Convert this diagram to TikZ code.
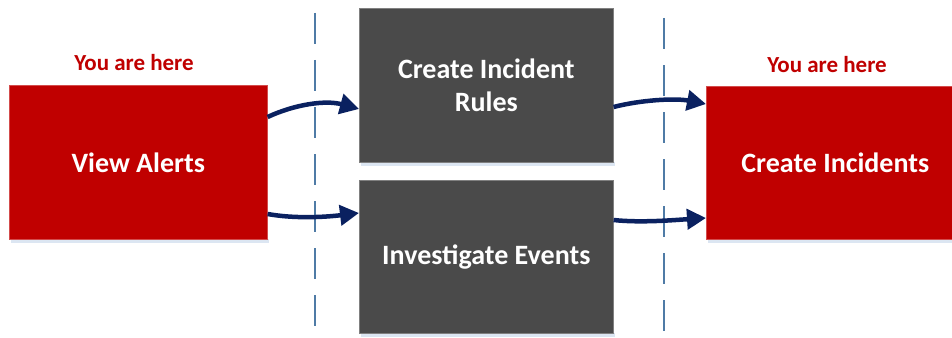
\documentclass[tikz,border=0pt]{standalone}
\usepackage{fontspec}
\setmainfont{Carlito}
\usetikzlibrary{arrows.meta,calc}
\definecolor{boxred}{HTML}{C00000}
\definecolor{boxgray}{HTML}{4A4A4A}
\definecolor{navy}{HTML}{0A2160}
\definecolor{dashblue}{HTML}{4F7BA6}
\definecolor{shadowblue}{HTML}{DCE6F2}
\tikzset{
  redbox/.style={fill=boxred, draw=boxred!70!white, line width=0.6pt, text=white, font=\fontsize{28}{33}\selectfont\bfseries, align=center, inner sep=0pt, anchor=north west},
  graybox/.style={fill=boxgray, draw=boxgray!70!white, line width=0.6pt, text=white, font=\fontsize{28}{33}\selectfont\bfseries, align=center, inner sep=0pt, anchor=north west},
  herelabel/.style={text=boxred, font=\fontsize{23}{27}\selectfont\bfseries, inner sep=0pt},
  flow/.style={draw=navy, line width=4.5pt, -{Triangle[length=19pt,width=20pt]}},
  divider/.style={draw=dashblue, line width=1.8pt, dash pattern=on 31pt off 16pt},
  shade/.style={fill=shadowblue, draw=none}
}
\begin{document}
\begin{tikzpicture}[x=1pt,y=-1pt]
\useasboundingbox (0,0) rectangle (952,337);
\clip (0,0) rectangle (952,337);
\fill[white] (0,0) rectangle (952,337);
% shadows
\fill[shade] (11,239) rectangle (269,243);
\fill[shade] (361,162) rectangle (615,166);
\fill[shade] (361,333) rectangle (615,337);
\fill[shade] (708,239) rectangle (966,243);
% dividers
\coordinate (d1t) at (315,13);
\coordinate (d1b) at (315,337);
\coordinate (d2t) at (664,18);
\coordinate (d2b) at (664,337);
\draw[divider] (d1t) -- (d1b);
\draw[divider] (d2t) -- (d2b);
% boxes
\node[redbox, minimum width=258pt, minimum height=154pt] (va) at (9,85) {View Alerts};
\node[graybox, minimum width=254pt, minimum height=154pt] (cir) at (359,8) {Create Incident\\Rules};
\node[graybox, minimum width=254pt, minimum height=153pt] (ie) at (359,180) {Investigate Events};
\node[redbox, minimum width=258pt, minimum height=153pt] (ci) at (706,86) {Create Incidents};
% labels
\node[herelabel] (h1) at (134,63) {You are here};
\node[herelabel] (h2) at (827,65) {You are here};
% arrows
\draw[flow] ($(va.north east)+(0,32)$) .. controls +(28,-13) and +(-33,-9) .. ($(cir.north west)+(0,101)$);
\draw[flow] ($(va.north east)+(0,129)$) .. controls +(28,5) and +(-33,4) .. ($(ie.north west)+(0,33)$);
\draw[flow] ($(cir.north east)+(0,99)$) .. controls +(27,-7) and +(-31,-6) .. ($(ci.north west)+(0,18)$);
\draw[flow] ($(ie.north east)+(0,40)$) .. controls +(27,3) and +(-31,2) .. ($(ci.north west)+(0,132)$);
\end{tikzpicture}
\end{document}
